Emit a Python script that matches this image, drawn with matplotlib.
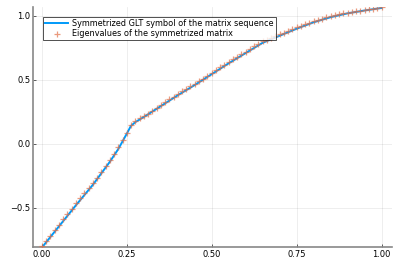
import numpy as np
import matplotlib
matplotlib.use("Agg")
import matplotlib.pyplot as plt

# Symbol curve
sym_x = [0.0, 0.05, 0.10, 0.15, 0.20, 0.225, 0.25, 0.262, 0.275, 0.30, 0.35,
         0.40, 0.45, 0.50, 0.55, 0.60, 0.65, 0.70, 0.75, 0.80, 0.85, 0.90,
         0.95, 1.00]
sym_y = [-0.81, -0.645, -0.48, -0.32, -0.14, -0.04, 0.08, 0.14, 0.17, 0.21,
         0.295, 0.38, 0.46, 0.545, 0.63, 0.71, 0.79, 0.845, 0.90, 0.95, 0.99,
         1.02, 1.042, 1.062]

# Eigenvalues, sorted, one per grid point k/80
eig_y = [-0.80, -0.76, -0.72, -0.675, -0.635, -0.59, -0.55, -0.505, -0.465,
         -0.42, -0.385, -0.345, -0.305, -0.265, -0.22, -0.175, -0.125, -0.075,
         -0.025, 0.03, 0.085, 0.15, 0.18, 0.20, 0.218, 0.236, 0.26, 0.28,
         0.305, 0.327, 0.348, 0.37, 0.39, 0.41, 0.43, 0.45, 0.47, 0.49, 0.51,
         0.532, 0.555, 0.578, 0.60, 0.62, 0.64, 0.662, 0.682, 0.70, 0.72,
         0.745, 0.765, 0.782, 0.80, 0.815, 0.828, 0.842, 0.855, 0.868, 0.882,
         0.896, 0.91, 0.922, 0.934, 0.946, 0.958, 0.97, 0.979, 0.988, 0.996,
         1.004, 1.012, 1.019, 1.026, 1.032, 1.037, 1.042, 1.046, 1.05, 1.055,
         1.06, 1.066]
eig_x = np.arange(len(eig_y)) / (len(eig_y) - 1)

fig = plt.figure(figsize=(3.99, 2.66), dpi=100)
ax = fig.add_axes([0.0827, 0.0714, 0.8993, 0.9026])

ax.plot(sym_x, sym_y, color="#009AF9", lw=1.4,
        label="Symmetrized GLT symbol of the matrix sequence", zorder=2)
ax.scatter(eig_x, eig_y, marker="+", s=20, color="#E26F46", alpha=0.7,
           linewidths=0.9, label="Eigenvalues of the symmetrized matrix", zorder=3)

ax.set_xlim(-0.026, 1.03)
ax.set_ylim(-0.805, 1.07)
ax.set_xticks([0, 0.25, 0.5, 0.75, 1.0])
ax.set_xticklabels(["0.00", "0.25", "0.50", "0.75", "1.00"])
ax.set_yticks([-0.5, 0, 0.5, 1.0])
ax.set_yticklabels(["\u22120.5", "0.0", "0.5", "1.0"])
ax.tick_params(labelsize=6, direction="in", length=2, width=0.6,
               color="#444444", pad=2)
ax.grid(True, color="black", alpha=0.08, lw=0.6)
ax.set_axisbelow(True)
for s in ["top", "right"]:
    ax.spines[s].set_visible(False)
for s in ["left", "bottom"]:
    ax.spines[s].set_color("#888888")
    ax.spines[s].set_linewidth(1.2)

leg = ax.legend(loc="upper left", bbox_to_anchor=(0.027, 0.96), fontsize=5.9,
                frameon=True, fancybox=False, edgecolor="black",
                borderpad=0.3, handlelength=2.8, handletextpad=0.5,
                labelspacing=0.1, borderaxespad=0)
leg.get_frame().set_linewidth(0.6)

fig.savefig("out.png", dpi=100)
